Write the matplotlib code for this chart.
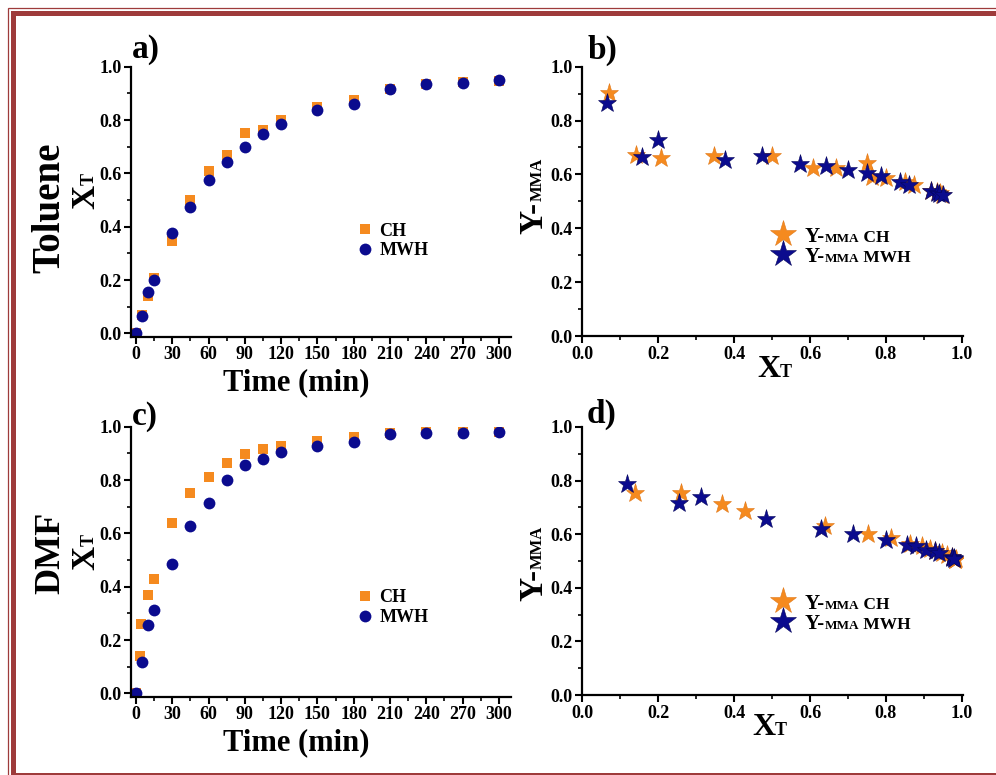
import matplotlib
matplotlib.use("Agg")
import matplotlib.pyplot as plt
from matplotlib.patches import Rectangle
from matplotlib.ticker import MultipleLocator, FormatStrFormatter

# Toluene: conversion vs time
t_tol = [0, 5, 10, 15, 30, 45, 60, 75, 90, 105, 120, 150, 180, 210, 240, 270, 300]
xt_tol_ch = [0.0, 0.07, 0.142, 0.208, 0.346, 0.499, 0.608, 0.668, 0.750, 0.764,
             0.801, 0.849, 0.874, 0.918, 0.934, 0.942, 0.948]
xt_tol_mwh = [0.0, 0.065, 0.156, 0.200, 0.375, 0.473, 0.574, 0.643, 0.700, 0.749,
              0.787, 0.836, 0.861, 0.918, 0.934, 0.940, 0.949]
# Toluene: Y-MMA vs conversion (t > 0)
y_tol_ch = [0.902, 0.673, 0.660, 0.669, 0.667, 0.623, 0.623, 0.642, 0.592, 0.586,
            0.570, 0.561, 0.540, 0.535, 0.530, 0.525]
y_tol_mwh = [0.865, 0.664, 0.726, 0.654, 0.667, 0.639, 0.632, 0.617, 0.605, 0.595,
             0.570, 0.561, 0.537, 0.530, 0.527, 0.524]

# DMF: conversion vs time
t_dmf_ch = [0, 3, 4, 10, 15, 30, 45, 60, 75, 90, 105, 120, 150, 180, 210, 240, 270, 300]
xt_dmf_ch = [0.0, 0.14, 0.26, 0.369, 0.429, 0.640, 0.753, 0.813, 0.863, 0.896, 0.916,
             0.929, 0.948, 0.960, 0.975, 0.984, 0.983, 0.982]
t_dmf_mwh = [0, 5, 10, 15, 30, 45, 60, 75, 90, 105, 120, 150, 180, 210, 240, 270, 300]
xt_dmf_mwh = [0.0, 0.119, 0.256, 0.313, 0.484, 0.628, 0.713, 0.800, 0.856, 0.878,
              0.906, 0.928, 0.941, 0.973, 0.975, 0.978, 0.979]
# DMF: Y-MMA vs conversion (t > 0)
y_dmf_ch = [0.752, 0.752, 0.712, 0.686, 0.630, 0.600, 0.584, 0.565, 0.555, 0.545,
            0.537, 0.530, 0.522, 0.515, 0.508, 0.505, 0.502]
y_dmf_mwh = [0.789, 0.717, 0.737, 0.658, 0.621, 0.602, 0.578, 0.559, 0.557, 0.540,
             0.538, 0.528, 0.516, 0.512, 0.510, 0.508]

ORANGE = "#F58A1F"
BLUE = "#0B0B8E"
BORDER = "#9E3B3B"
DESC = 0.217  # descender depth of Liberation Serif, in em

plt.rcParams["font.family"] = "Liberation Serif"
plt.rcParams["font.weight"] = "bold"
plt.rcParams["axes.labelweight"] = "bold"

W, H = 996, 775
fig = plt.figure(figsize=(W / 100, H / 100), dpi=100)


def px_axes(left, top, right, bottom):
    return fig.add_axes([left / W, 1 - bottom / H, (right - left) / W, (bottom - top) / H])


def append_text(ax, parent, s, size, parent_size, vertical=False):
    # smaller text sitting on the same baseline, right after the parent text;
    # high zorder so the parent (e.g. a legend entry) is laid out first
    shift = DESC * (parent_size - size)
    if vertical:
        return ax.annotate(s, xy=(1, 1), xycoords=parent, xytext=(-shift, 0),
                           textcoords="offset points", rotation=90, ha="right",
                           va="bottom", fontsize=size, fontweight="bold", zorder=10)
    return ax.annotate(s, xy=(1, 0), xycoords=parent, xytext=(0, shift),
                       textcoords="offset points", ha="left", va="bottom",
                       fontsize=size, fontweight="bold", zorder=10)


def style(ax, xmaj, xmin_, xfmt):
    for s in ["top", "right"]:
        ax.spines[s].set_visible(False)
    for s in ["left", "bottom"]:
        ax.spines[s].set_linewidth(1.6)
    ax.xaxis.set_major_locator(MultipleLocator(xmaj))
    ax.xaxis.set_minor_locator(MultipleLocator(xmin_))
    ax.yaxis.set_major_locator(MultipleLocator(0.2))
    ax.yaxis.set_minor_locator(MultipleLocator(0.1))
    ax.xaxis.set_major_formatter(FormatStrFormatter(xfmt))
    ax.yaxis.set_major_formatter(FormatStrFormatter("%.1f"))
    ax.tick_params(which="major", direction="out", length=5, width=1.5, labelsize=13, pad=2)
    ax.tick_params(which="minor", direction="out", length=3, width=1.2)


def time_panel(ax, t_ch, ch, t_mwh, mwh, leg_y, ylab_y):
    ax.plot(t_ch, ch, "s", ls="none", color=ORANGE, ms=7.5, mew=0, label="CH")
    ax.plot(t_mwh, mwh, "o", ls="none", color=BLUE, ms=8.5, mew=0, label="MWH")
    ax.set_xlim(-4.1, 310)
    ax.set_ylim(-0.0125, 1.0)
    style(ax, 30, 15, "%d")
    ax.set_xlabel("Time (min)", fontsize=22)
    ax.xaxis.set_label_coords(0.435, -0.115)
    lab = ax.set_ylabel("X", fontsize=24)
    ax.yaxis.set_label_coords(-0.079, ylab_y)
    append_text(ax, lab, "T", 13, 24, vertical=True)
    ax.legend(loc="center left", bbox_to_anchor=(0.597, leg_y), frameon=False,
              fontsize=13, handlelength=0.8, handletextpad=0.4, labelspacing=0.15,
              borderpad=0, borderaxespad=0)


def ymma_panel(ax, x_ch, y_ch, x_mwh, y_mwh, leg_y, xlab_x, xlab_y, ylab_y):
    ax.plot(x_ch, y_ch, "*", ls="none", color=ORANGE, ms=14, mew=0.4, mec="#E07818",
            label="Y-")
    ax.plot(x_mwh, y_mwh, "*", ls="none", color=BLUE, ms=14, mew=0.4, mec="#05055A",
            label="Y-")
    ax.set_xlim(0, 1.003)
    ax.set_ylim(0, 1.0)
    style(ax, 0.2, 0.1, "%.1f")
    xl = ax.set_xlabel("X", fontsize=23)
    ax.xaxis.set_label_coords(xlab_x, xlab_y)
    append_text(ax, xl, "T", 13, 23)
    yl = ax.set_ylabel("Y-", fontsize=24)
    ax.yaxis.set_label_coords(-0.0875, ylab_y)
    append_text(ax, yl, "MMA", 12, 24, vertical=True)
    leg = ax.legend(loc="center left", bbox_to_anchor=(0.494, leg_y), frameon=False,
                    fontsize=15, markerscale=1.4, handlelength=1.2, handletextpad=0.45,
                    labelspacing=0.0, borderpad=0, borderaxespad=0)
    for txt, tail in zip(leg.get_texts(), [" CH", " MWH"]):
        small = append_text(ax, txt, "MMA", 9.5, 15)
        append_text(ax, small, tail, 12.5, 9.5)


ax_a = px_axes(131, 66.7, 511, 336.7)
ax_b = px_axes(582.3, 66.7, 963, 336)
ax_c = px_axes(131, 426.7, 511, 696.7)
ax_d = px_axes(582.3, 427, 963, 695)

time_panel(ax_a, t_tol, xt_tol_ch, t_tol, xt_tol_mwh, 0.354, 0.516)
ymma_panel(ax_b, xt_tol_ch[1:], y_tol_ch, xt_tol_mwh[1:], y_tol_mwh, 0.332,
           0.489, -0.069, 0.44)
time_panel(ax_c, t_dmf_ch, xt_dmf_ch, t_dmf_mwh, xt_dmf_mwh, 0.33, 0.514)
ymma_panel(ax_d, xt_dmf_ch[1:], y_dmf_ch, xt_dmf_mwh[1:], y_dmf_mwh, 0.304,
           0.476, -0.067, 0.412)

# panel letters and solvent names
for lbl, x, y in [("a)", 132, 58), ("b)", 588, 59), ("c)", 132, 425), ("d)", 587, 423)]:
    fig.text(x / W, 1 - y / H, lbl, fontsize=24, va="baseline", ha="left")
fig.text(50 / W, 1 - 208 / H, "Toluene", fontsize=28, rotation=90, ha="center", va="center")
fig.text(51 / W, 1 - 553 / H, "DMF", fontsize=26, rotation=90, ha="center", va="center")

# page border
fig.add_artist(Rectangle((12.5 / W, 0.5 / H), (1010 - 12.5) / W, (762.5 - 0.5) / H,
                         transform=fig.transFigure, fill=False, lw=3.6, ec=BORDER))
fig.add_artist(Rectangle((7.5 / W, -5 / H), (1010 - 7.5) / W, (767.5 + 5) / H,
                         transform=fig.transFigure, fill=False, lw=0.9, ec=BORDER))

fig.savefig("out.png", dpi=100)
